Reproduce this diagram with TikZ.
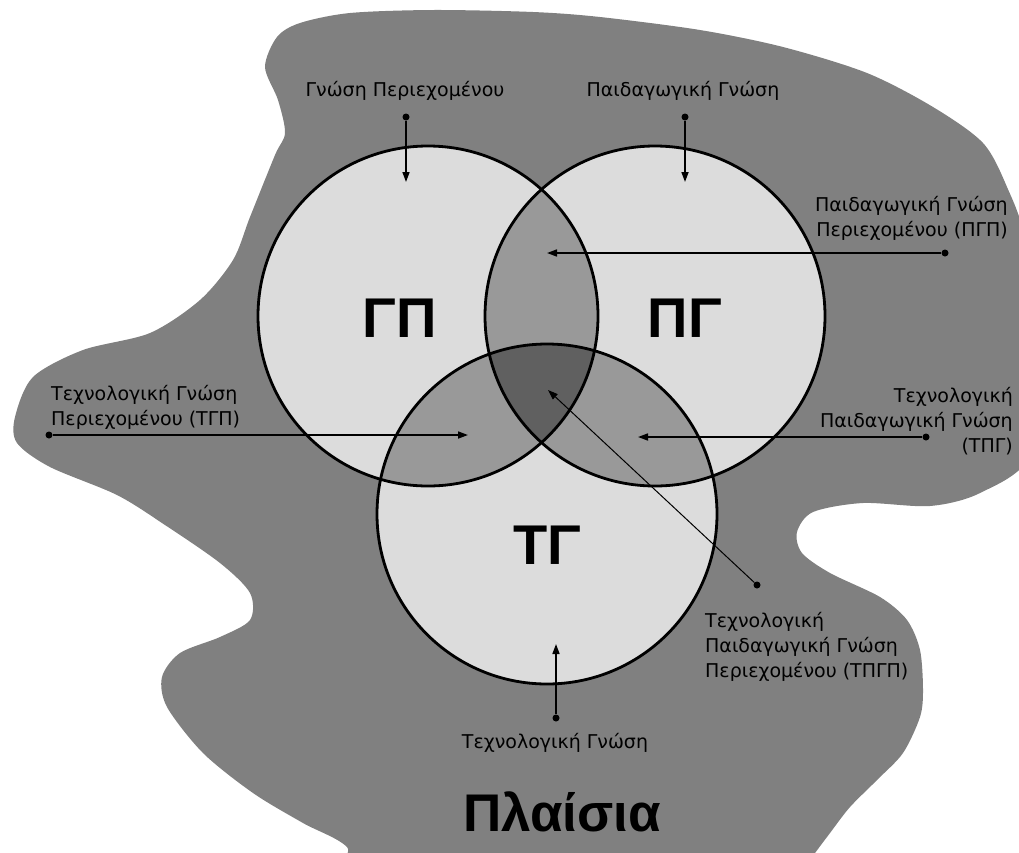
\documentclass[tikz,border=0pt]{standalone}
\usepackage{fontspec}
\setmainfont{Liberation Sans}
\newfontfamily\lblfont{DejaVu Sans}
\usetikzlibrary{arrows.meta}
\definecolor{blobgray}{HTML}{808080}
\definecolor{setA}{HTML}{DCDCDC}
\definecolor{setB}{HTML}{999999}
\definecolor{setC}{HTML}{606060}

\begin{document}
\begin{tikzpicture}[x=1pt,y=-1pt,>={Triangle[length=10pt,width=7pt]},
  lbl/.style={font=\lblfont\fontsize{19}{25}\selectfont,text=black,inner sep=0pt},
  big/.style={font=\bfseries\fontsize{56}{56}\selectfont,inner sep=0pt},
  dot/.style={circle,fill=black,inner sep=0pt,minimum size=7pt},
  link/.style={->,line width=1.6pt}]
\useasboundingbox (0,0) rectangle (1019,852);
\clip (0,0) rectangle (1019,852);
% context blob
\fill[blobgray] plot[smooth cycle,tension=0.5] coordinates {
  (277,37) (300,23) (350,13) (433,10) (533,12) (600,17) (700,30) (783,47)
  (867,73) (933,107) (983,143) (1007,187) (1025,240) (1035,350) (1030,455)
  (980,493) (930,506) (863,503) (813,512) (797,532) (802,553) (830,573)
  (880,597) (907,620) (920,650) (923,690) (920,717) (903,753) (877,780)
  (850,807) (830,833) (810,860) (790,890) (370,890) (347,847) (303,823)
  (253,793) (203,753) (167,707) (162,677) (180,653) (220,637) (250,620)
  (250,593) (220,563) (165,525) (117,495) (50,467) (17,443) (15,417)
  (33,377) (83,350) (150,333) (200,300) (233,260) (250,217) (275,155)
  (285,133) (278,100) (265,67)};
% the three sets
\def\rad{170pt}
\coordinate (GP) at (428,316);
\coordinate (PG) at (655,316);
\coordinate (TG) at (547,514);
\foreach \c in {GP,PG,TG}
  \fill[setA] (\c) circle (\rad);
\begin{scope}
  \clip (GP) circle (\rad);
  \fill[setB] (PG) circle (\rad);
  \fill[setB] (TG) circle (\rad);
\end{scope}
\begin{scope}
  \clip (PG) circle (\rad);
  \fill[setB] (TG) circle (\rad);
\end{scope}
\begin{scope}
  \clip (GP) circle (\rad);
  \clip (PG) circle (\rad);
  \fill[setC] (TG) circle (\rad);
\end{scope}
\foreach \c in {GP,PG,TG}
  \draw[line width=2.8pt] (\c) circle (\rad);
\node[big] (gpName) at (400,318) {ΓΠ};
\node[big] (pgName) at (685,318) {ΠΓ};
\node[big] (tgName) at (547,545) {ΤΓ};
\node[big,font=\bfseries\fontsize{53}{53}\selectfont] (ctx) at (562,812) {Πλαίσια};
% labels and arrows
\node[lbl] (gpLbl) at (405,91) {Γνώση Περιεχομένου};
\node[dot] (gpDot) at (406,117) {};
\coordinate (gpTip) at (406,182);
\draw[link] (gpDot) -- (gpTip);
\node[lbl] (pgLbl) at (683,91) {Παιδαγωγική Γνώση};
\node[dot] (pgDot) at (685,117) {};
\coordinate (pgTip) at (685,182);
\draw[link] (pgDot) -- (pgTip);
\node[lbl,anchor=east,align=right] (pgpLbl) at (1008,218) {Παιδαγωγική Γνώση\\Περιεχομένου (ΠΓΠ)};
\node[dot] (pgpDot) at (945,253) {};
\coordinate (pgpTip) at (547,253);
\draw[link] (pgpDot) -- (pgpTip);
\node[lbl,anchor=west,align=left] (tgpLbl) at (51,407) {Τεχνολογική Γνώση\\Περιεχομένου (ΤΓΠ)};
\node[dot] (tgpDot) at (49,435) {};
\coordinate (tgpTip) at (468,435);
\draw[link] (tgpDot) -- (tgpTip);
\node[lbl,anchor=east,align=right] (tpgLbl) at (1013,421) {Τεχνολογική\\Παιδαγωγική Γνώση\\(ΤΠΓ)};
\node[dot] (tpgDot) at (926,437) {};
\coordinate (tpgTip) at (638,437);
\draw[link] (tpgDot) -- (tpgTip);
\node[lbl,anchor=west,align=left] (tpgpLbl) at (705,647) {Τεχνολογική\\Παιδαγωγική Γνώση\\Περιεχομένου (ΤΠΓΠ)};
\node[dot] (tpgpDot) at (757,585) {};
\coordinate (tpgpTip) at (548,390);
\draw[->,line width=1pt] (tpgpDot) -- (tpgpTip);
\node[lbl] (tgLbl) at (555,743) {Τεχνολογική Γνώση};
\node[dot] (tgDot) at (556,718) {};
\coordinate (tgTip) at (556,644);
\draw[link] (tgDot) -- (tgTip);
\end{tikzpicture}
\end{document}
